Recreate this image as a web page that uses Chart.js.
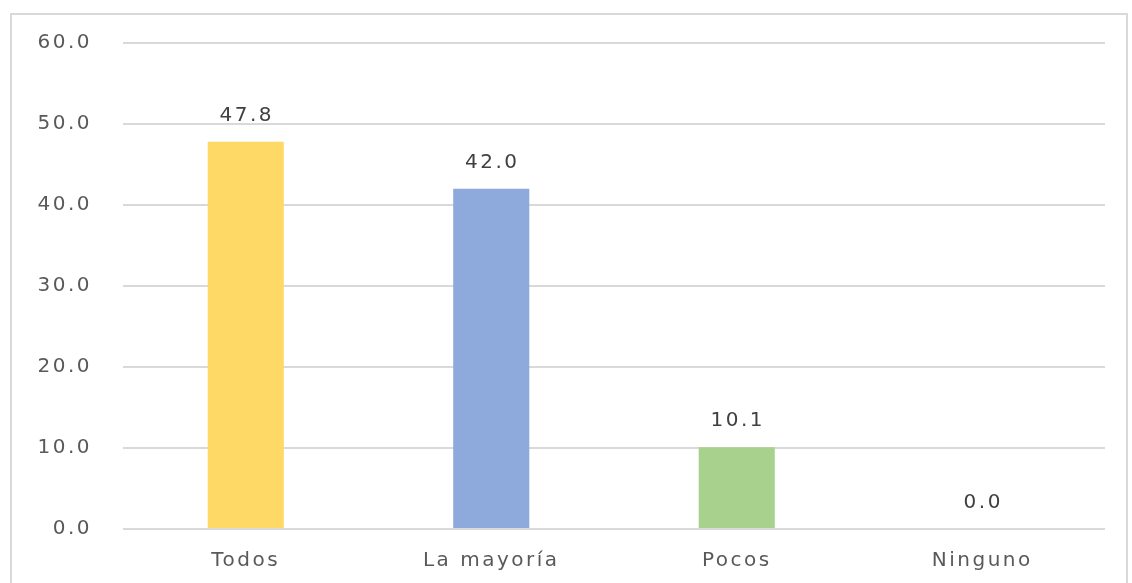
<!DOCTYPE html>
<html>
<head>
<meta charset="utf-8">
<script src="https://cdn.jsdelivr.net/npm/chart.js"></script>
<style>
    html, body { margin: 0; padding: 0; background: #fff; }
    #wrap { position: relative; width: 1132px; height: 583px; overflow: hidden; }
    #frame { position: absolute; left: 10px; top: 13px; width: 1118px; height: 600px; border: 2px solid #D9D9D9; box-sizing: border-box; }
    #myChart { position: absolute; left: 0; top: 0; }
</style>
</head>
<body>
<div id="wrap">
    <div id="frame"></div>
    <canvas id="myChart" width="1132" height="583"></canvas>
</div>
<script>
var categories = ['Todos', 'La mayoría', 'Pocos', 'Ninguno'];
var values = [47.8, 42.0, 10.1, 0.0];
var barColors = ['#FFD966', '#8EA9DB', '#A9D18E', '#C9C9C9'];
var yTicks = [0, 10, 20, 30, 40, 50, 60];

var FONT = '"DejaVu Sans", sans-serif';
var LS = '2.5px';

// a bit of letter spacing, the original text is quite wide
var spacing = {
    id: 'spacing',
    beforeDraw: function (chart) {
        chart.ctx.letterSpacing = LS;
    }
};

// value labels above each bar
var barLabels = {
    id: 'barLabels',
    afterDatasetsDraw: function (chart) {
        var ctx = chart.ctx;
        var meta = chart.getDatasetMeta(0);
        ctx.save();
        ctx.letterSpacing = LS;
        ctx.font = '20px ' + FONT;
        ctx.fillStyle = '#404040';
        ctx.textAlign = 'center';
        ctx.textBaseline = 'middle';
        meta.data.forEach(function (bar, i) {
            ctx.fillText(values[i].toFixed(1), bar.x + 1, bar.y - 26);
        });
        ctx.restore();
    }
};

var ctx = document.getElementById('myChart').getContext('2d');
var chart = new Chart(ctx, {
    type: 'bar',
    data: {
        labels: categories,
        datasets: [{
            data: values,
            backgroundColor: barColors,
            borderWidth: 0,
            categoryPercentage: 1,
            barPercentage: 0.31
        }]
    },
    options: {
        responsive: false,
        animation: false,
        layout: { padding: { top: 42, right: 27, bottom: 0, left: 0 } },
        plugins: {
            legend: { display: false },
            tooltip: { enabled: false }
        },
        scales: {
            x: {
                grid: { display: false },
                border: { display: false },
                ticks: { color: '#595959', padding: 12, font: { family: FONT, size: 20 } },
                afterFit: function (scale) { scale.height = 54; }
            },
            y: {
                min: yTicks[0],
                max: yTicks[yTicks.length - 1],
                afterBuildTicks: function (scale) {
                    scale.ticks = yTicks.map(function (v) { return { value: v }; });
                },
                grid: { color: '#D9D9D9', lineWidth: 2, drawTicks: false },
                border: { display: false },
                ticks: {
                    color: '#595959',
                    padding: 31,
                    font: { family: FONT, size: 20 },
                    callback: function (v) { return Number(v).toFixed(1); }
                },
                afterFit: function (scale) { scale.width = 123; }
            }
        }
    },
    plugins: [spacing, barLabels]
});
</script>
</body>
</html>
